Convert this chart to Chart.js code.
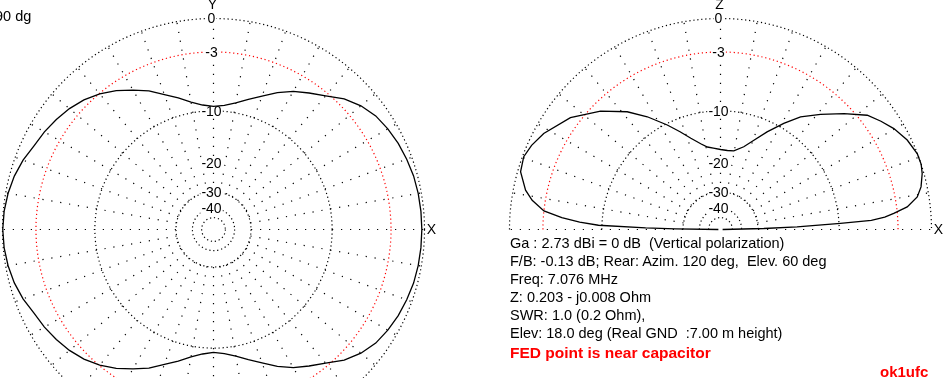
<!DOCTYPE html>
<html lang="en">
<head>
<meta charset="utf-8">
<script src="https://cdn.jsdelivr.net/npm/chart.js"></script>
<style>
  html, body { margin: 0; padding: 0; background: #fff; }
  body { position: relative; width: 946px; height: 378px; overflow: hidden;
         font-family: "Liberation Sans", Arial, sans-serif; color: #000; }
  canvas { position: absolute; }
  #azimuthChart { left: -27px; top: -11px; }
  #elevationChart { left: 480px; top: -11px; }
  .note { position: absolute; white-space: pre; }
  #angleNote { left: -5px; top: 7px; font-size: 14.5px; line-height: 18px; }
  #info { left: 510px; top: 234px; font-size: 14.5px; line-height: 18px; }
  #warn { left: 510px; top: 344px; font-size: 15.5px; line-height: 18px; font-weight: bold; color: #ff0000; }
  #sign { left: 880px; top: 363px; font-size: 15px; line-height: 18px; font-weight: bold; color: #ff0000; }
</style>
</head>
<body>

<canvas id="azimuthChart" width="480" height="480"></canvas>
<canvas id="elevationChart" width="480" height="480"></canvas>

<div class="note" id="angleNote">90 dg</div>
<div class="note" id="info">Ga : 2.73 dBi = 0 dB  (Vertical polarization)
F/B: -0.13 dB; Rear: Azim. 120 deg,  Elev. 60 deg
Freq: 7.076 MHz
Z: 0.203 - j0.008 Ohm
SWR: 1.0 (0.2 Ohm),
Elev: 18.0 deg (Real GND  :7.00 m height)</div>
<div class="note" id="warn">FED point is near capacitor</div>
<div class="note" id="sign">ok1ufc</div>

<script>
// grid rings (dB) and the labels written up the vertical axis
const gridLevels = [0, -3, -10, -30, -40, -50];
const tickLevels = [0, -3, -10, -20, -30, -40];
const tickLabels = ['0', '-3', '-10', '-20', '-30', '-40'];

// horizontal pattern, azimuth in degrees (0 = X, 90 = Y)
const azimAngles = Array.from({ length: 73 }, (_, i) => i * 5);
const azimGain = [
  -0.22, -0.23, -0.26, -0.32, -0.45, -0.6, -0.82, -1.1, -1.6, -2.3,
  -3.3, -4.1, -4.85, -5.8, -6.9, -7.8, -8.6, -9.15, -9.35, -9.1,
  -8.5, -7.6, -6.7, -5.6, -4.7, -3.8, -3.05, -2.45, -2.0, -1.65,
  -1.35, -1.1, -0.7, -0.4, -0.2, -0.07, -0.02, -0.07, -0.2, -0.4,
  -0.7, -1.1, -1.35, -1.65, -2.0, -2.45, -3.05, -3.8, -4.7, -5.6,
  -6.7, -7.6, -8.5, -9.1, -9.4, -9.15, -8.6, -7.8, -6.9, -5.8,
  -4.85, -4.1, -3.3, -2.3, -1.6, -1.1, -0.82, -0.6, -0.45, -0.32,
  -0.26, -0.23, -0.22
];

// vertical pattern, elevation in degrees (0 = X, 90 = Z)
const elevAngles = [0, 1.3, 1.9, 2.9, 3.5, 4.3, 5.3, 6.9, 9.4, 12, 15.5, 18, 21, 25.6, 30.2,
  34, 37.9, 43.2, 49, 54.6, 59.2, 64.5, 69.5, 74.3, 80.4, 85, 90, 95, 99, 103, 108, 112.5,
  117, 123, 128.4, 135.4, 143.3, 151.5, 156, 159.7, 163.9, 168.6, 171.2, 174, 175.7, 177,
  178, 178.8, 179.2, 180];
const elevGain = [-80, -27.5, -17.6, -9.8, -5.8, -4.3, -3.35, -2.0, -0.98, -0.5, -0.14, 0, -0.01, -0.33, -0.88,
  -1.5, -2.19, -3.82, -5.65, -7.35, -9.3, -11.6, -13.8, -15.6, -16.9, -17.0, -16.85, -16.5, -16.1, -15.2, -13.7, -12.0,
  -10.2, -7.83, -5.9, -3.9, -2.08, -0.83, -0.35, -0.1, -0.24, -1.03, -1.77, -3.0, -4.9, -7.0,
  -9.5, -18, -26.8, -80];

// log scale used by the plot: radius 1 at 0 dB
const toRadius = db => Math.pow(10, db / 40);

function polarPoints(angles, gains) {
  return angles.map((a, i) => {
    const t = a * Math.PI / 180, r = toRadius(gains[i]);
    return { x: r * Math.cos(t), y: r * Math.sin(t) };
  });
}

const polarGrid = {
  id: 'polarGrid',
  beforeDatasetsDraw(chart, args, opts) {
    const { ctx, scales: { x, y } } = chart;
    const cx = x.getPixelForValue(0), cy = y.getPixelForValue(0);
    const unit = x.getPixelForValue(1) - cx;
    const maxA = opts.half ? 180 : 350;
    ctx.save();

    // spokes every 10 deg
    ctx.lineWidth = 1.2;
    ctx.strokeStyle = '#000';
    ctx.setLineDash([1.2, 7.8]);
    const r0 = toRadius(-30) * unit;
    for (let a = 0; a <= maxA; a += 10) {
      const t = a * Math.PI / 180;
      ctx.beginPath();
      ctx.moveTo(cx + r0 * Math.cos(t), cy - r0 * Math.sin(t));
      ctx.lineTo(cx + unit * Math.cos(t), cy - unit * Math.sin(t));
      ctx.stroke();
    }

    // rings
    ctx.setLineDash([1.2, 2.8]);
    gridLevels.forEach(db => {
      ctx.strokeStyle = db === -3 ? '#ff0000' : '#000';
      ctx.beginPath();
      ctx.arc(cx, cy, toRadius(db) * unit, opts.half ? Math.PI : 0, 2 * Math.PI);
      ctx.stroke();
    });

    // dB labels with a white box
    ctx.setLineDash([]);
    ctx.font = '14px "Liberation Sans", Arial, sans-serif';
    ctx.textAlign = 'center';
    ctx.textBaseline = 'middle';
    tickLevels.forEach((db, i) => {
      const ty = cy - toRadius(db) * unit;
      const w = ctx.measureText(tickLabels[i]).width;
      ctx.fillStyle = '#fff';
      ctx.fillRect(cx - 2 - w / 2 - 1, ty - 6, w + 2, 12);
      ctx.fillStyle = '#000';
      ctx.fillText(tickLabels[i], cx - 2, ty + 1);
    });

    // axis letters
    ctx.fillText(opts.up, cx - 1, cy - 224);
    ctx.fillText('X', cx + 218, cy + 1);
    ctx.restore();
  }
};

function makeChart(id, data, half, up) {
  return new Chart(document.getElementById(id), {
    type: 'scatter',
    data: {
      datasets: [{
        data: data,
        showLine: true,
        borderColor: '#000',
        borderWidth: 1.3,
        pointRadius: 0,
        tension: 0,
        fill: false
      }]
    },
    options: {
      responsive: false,
      animation: false,
      devicePixelRatio: 1,
      layout: { padding: 0 },
      scales: {
        x: { type: 'linear', display: false, min: -240.5 / 211, max: 239.5 / 211 },
        y: { type: 'linear', display: false, min: -239.5 / 211, max: 240.5 / 211 }
      },
      plugins: {
        legend: { display: false },
        tooltip: { enabled: false },
        polarGrid: { half: half, up: up }
      }
    },
    plugins: [polarGrid]
  });
}

makeChart('azimuthChart', polarPoints(azimAngles, azimGain), false, 'Y');
makeChart('elevationChart', polarPoints(elevAngles, elevGain), true, 'Z');
</script>
</body>
</html>
